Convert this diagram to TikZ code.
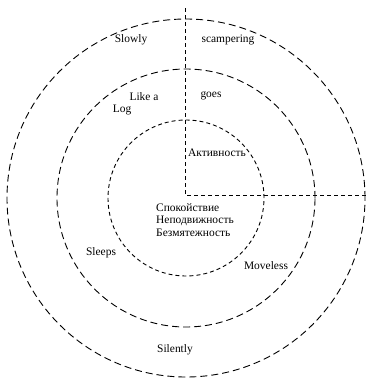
\documentclass[tikz,border=0pt]{standalone}
\usepackage{fontspec}
\setmainfont{Liberation Serif}
\begin{document}
\begin{tikzpicture}[x=1bp, y=-1bp, font=\fontsize{11.5}{12.5}\selectfont, line width=0.9bp,
    longdash/.style={draw, dash pattern=on 7bp off 4bp},
    shortdash/.style={draw, dash pattern=on 4bp off 3bp}]
  \useasboundingbox (0,0) rectangle (368,382);
  \coordinate (c) at (186,198);
  \coordinate (k) at (185,195);
  \coordinate (up) at (185,8);
  \coordinate (rt) at (368,195);
  % rings
  \path[longdash]  (c) circle[radius=179bp];
  \path[longdash]  (c) circle[radius=129bp];
  \path[shortdash] (c) circle[radius=78bp];
  \path[shortdash] (up) -- (k) -- (rt);
  % words
  \node (slowly) at (131,40) {Slowly};
  \node (scamp)  at (228,40) {scampering};
  \node (like)   at (144,97) {Like a};
  \node (log)    at (122,110) {Log};
  \node (goes)   at (211,96) {goes};
  \node (aktiv)  at (217,153) {Активность};
  \node[align=left] (rest) at (195,220) {Спокойствие\\Неподвижность\\Безмятежность};
  \node (sleeps) at (101,253) {Sleeps};
  \node (moveless) at (266,266) {Moveless};
  \node (silent) at (175,350) {Silently};
\end{tikzpicture}
\end{document}
